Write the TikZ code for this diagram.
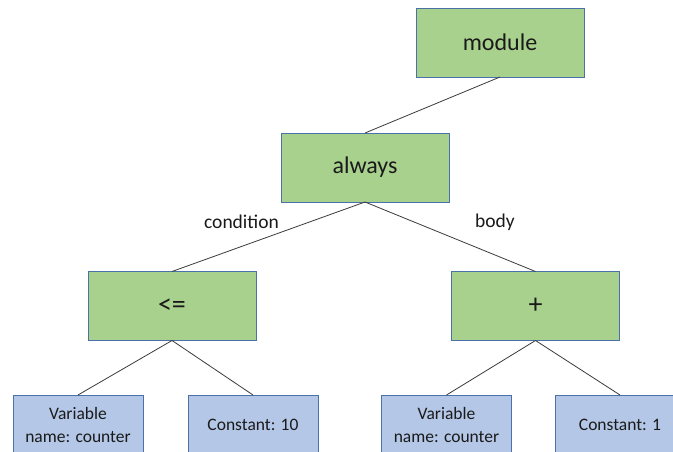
\documentclass[tikz,border=0pt]{standalone}
\usepackage{fontspec}
\setmainfont{Carlito}
\definecolor{leafgreen}{HTML}{A9D18E}
\definecolor{leafblue}{HTML}{B4C7E7}
\definecolor{boxedge}{HTML}{4A72A8}
\definecolor{wire}{HTML}{3A3A3A}
\definecolor{ink}{HTML}{1A1A1A}
\tikzset{
  opbox/.style={rectangle, draw=boxedge, line width=0.8pt, fill=leafgreen,
    minimum width=168pt, minimum height=69pt, inner sep=0pt, outer sep=0pt,
    text=ink, font=\fontsize{24}{28}\selectfont},
  symbol/.style={font=\fontsize{28}{32}\selectfont},
  leafbox/.style={rectangle, draw=boxedge, line width=0.8pt, fill=leafblue,
    minimum width=130pt, minimum height=60pt, inner sep=0pt, outer sep=0pt,
    text=ink, align=center, font=\fontsize{17.5}{23}\selectfont},
  edgelabel/.style={text=ink, inner sep=0pt, font=\fontsize{19.5}{23}\selectfont},
  link/.style={draw=wire, line width=0.8pt}
}
\begin{document}
\begin{tikzpicture}[x=1pt, y=-1pt]
  \useasboundingbox (0,0) rectangle (673,452);
  \clip (0,0) rectangle (673,452);

  % operator nodes
  \node[opbox] (module) at (500,42.5) {module};
  \node[opbox] (always) at (365,167.5) {always};
  \node[opbox, symbol] (le) at (172,306) {<=};
  \node[opbox, symbol] (plus) at (535.5,306) {+};

  % leaf nodes
  \node[leafbox] (varA) at (78,425) {Variable\\name: counter};
  \node[leafbox] (constA) at (253,425) {Constant: 10};
  \node[leafbox] (varB) at (446.5,425) {Variable\\name: counter};
  \node[leafbox] (constB) at (620,425) {Constant: 1};

  % tree edges
  \draw[link] (module.south) -- (always.north);
  \draw[link] (always.south) -- (le.north);
  \draw[link] (always.south) -- (plus.north);
  \draw[link] (le.south) -- (varA.north);
  \draw[link] (le.south) -- (constA.north);
  \draw[link] (plus.south) -- (varB.north);
  \draw[link] (plus.south) -- (constB.north);

  % edge labels
  \node[edgelabel] (condlabel) at (241.5,222) {condition};
  \node[edgelabel] (bodylabel) at (495,222) {body};
\end{tikzpicture}
\end{document}
